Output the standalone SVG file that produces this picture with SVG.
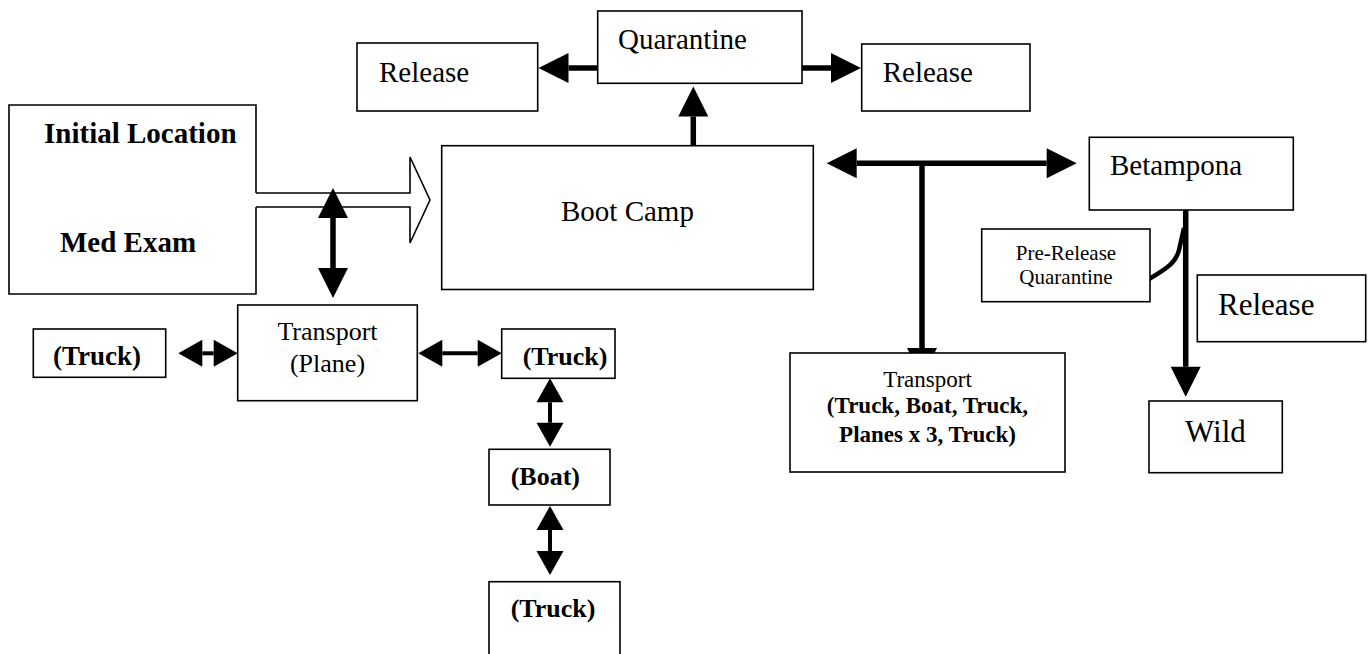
<svg xmlns="http://www.w3.org/2000/svg" width="1372" height="654" viewBox="0 0 1372 654">
<style>
.box{fill:#fff;stroke:#000;stroke-width:1.6}
.t{font-family:"Liberation Serif","Times New Roman",serif;fill:#000}
.b{font-weight:bold}
.c{stroke:#000;fill:none;stroke-width:5.5}
.cs{stroke:#000;fill:none;stroke-width:4}
.m{text-anchor:middle}
</style>
<defs>
<marker id="big" markerUnits="userSpaceOnUse" markerWidth="32" markerHeight="32" viewBox="0 -16 32 32" refX="0" refY="0" orient="auto-start-reverse" overflow="visible"><path d="M0,-15 L30,0 L0,15 Z" fill="#000"/></marker>
<marker id="small" markerUnits="userSpaceOnUse" markerWidth="26" markerHeight="28" viewBox="0 -14 26 28" refX="0" refY="0" orient="auto-start-reverse" overflow="visible"><path d="M0,-13.5 L24,0 L0,13.5 Z" fill="#000"/></marker>
</defs>
<rect width="1372" height="654" fill="#fff"/>
<g id="connectors">
<path d="M256,193 H410 V157 L430,200 L410,243 V207 H256" fill="#fff" stroke="#000" stroke-width="1.6"/>
<path class="c" d="M597.7,68 H568.5" marker-end="url(#big)"/>
<path class="c" d="M802,68 H831" marker-end="url(#big)"/>
<path class="c" d="M693.3,145.7 V116.5" marker-end="url(#big)"/>
<path class="c" d="M333,218 V268" marker-start="url(#big)" marker-end="url(#big)"/>
<path class="c" d="M856.7,163.3 H1046.7" marker-start="url(#big)" marker-end="url(#big)"/>
<path class="c" d="M922,163.3 V348" marker-end="url(#big)"/>
<path class="c" d="M1185.7,207 V366.7" marker-end="url(#big)"/>
<path d="M1149,279 C1168,268 1176,262 1179,250 L1184,228" fill="none" stroke="#000" stroke-width="4.5"/>
<path class="cs" d="M202.3,353.3 H213.7" marker-start="url(#small)" marker-end="url(#small)"/>
<path class="cs" d="M442.3,353.3 H477.7" marker-start="url(#small)" marker-end="url(#small)"/>
<path class="cs" d="M550,402.3 V422.7" marker-start="url(#small)" marker-end="url(#small)"/>
<path class="cs" d="M550,530 V551" marker-start="url(#small)" marker-end="url(#small)"/>
</g>
<g id="initial">
<path class="box" d="M256,193 V105 H9 V294 H256 V207"/>
<text class="t b" x="44" y="143" font-size="29">Initial Location</text>
<text class="t b" x="60" y="252" font-size="29">Med Exam</text>
</g>
<g id="release-left">
<rect class="box" x="357" y="43" width="180.7" height="68"/>
<text class="t" x="379" y="81.7" font-size="29">Release</text>
</g>
<g id="quarantine">
<rect class="box" x="597.7" y="11" width="204.3" height="72.3"/>
<text class="t" x="618" y="49" font-size="29">Quarantine</text>
</g>
<g id="release-right">
<rect class="box" x="861.7" y="44" width="168.3" height="67"/>
<text class="t" x="882.7" y="81.7" font-size="29">Release</text>
</g>
<g id="boot-camp">
<rect class="box" x="441.7" y="145.7" width="371.6" height="143.8"/>
<text class="t" x="561" y="221" font-size="29">Boot Camp</text>
</g>
<g id="betampona">
<rect class="box" x="1089.3" y="137.3" width="204" height="72.7"/>
<text class="t" x="1110" y="175" font-size="29">Betampona</text>
</g>
<g id="pre-release">
<rect class="box" x="981.7" y="229" width="168.3" height="72.7"/>
<text class="t m" x="1066" y="260" font-size="21">Pre-Release</text>
<text class="t m" x="1066" y="284" font-size="21">Quarantine</text>
</g>
<g id="release-br">
<rect class="box" x="1197.3" y="275" width="168.4" height="66.7"/>
<text class="t" x="1218" y="315" font-size="31">Release</text>
</g>
<g id="wild">
<rect class="box" x="1149" y="401" width="133.3" height="71.7"/>
<text class="t" x="1185" y="442" font-size="31">Wild</text>
</g>
<g id="transport-right">
<rect class="box" x="790" y="353" width="275" height="119"/>
<text class="t m" x="927.5" y="386.7" font-size="23">Transport</text>
<text class="t b m" x="927.5" y="413.3" font-size="23">(Truck, Boat, Truck,</text>
<text class="t b m" x="927.5" y="441.7" font-size="23">Planes x 3, Truck)</text>
</g>
<g id="transport-plane">
<rect class="box" x="237.7" y="305" width="179.6" height="95.7"/>
<text class="t m" x="327.5" y="340" font-size="26">Transport</text>
<text class="t m" x="327.5" y="371.7" font-size="26">(Plane)</text>
</g>
<g id="truck-left">
<rect class="box" x="33.3" y="329" width="132.4" height="48.3"/>
<text class="t b" x="53" y="365" font-size="27">(Truck)</text>
</g>
<g id="truck-right">
<rect class="box" x="501.7" y="329" width="113.3" height="49.3"/>
<text class="t b" x="522.7" y="365" font-size="26">(Truck)</text>
</g>
<g id="boat">
<rect class="box" x="489" y="449.3" width="121" height="55.7"/>
<text class="t b" x="510.7" y="485" font-size="26">(Boat)</text>
</g>
<g id="truck-bottom">
<rect class="box" x="489" y="581.7" width="131" height="80"/>
<text class="t b" x="510.7" y="616.7" font-size="26">(Truck)</text>
</g>
</svg>
